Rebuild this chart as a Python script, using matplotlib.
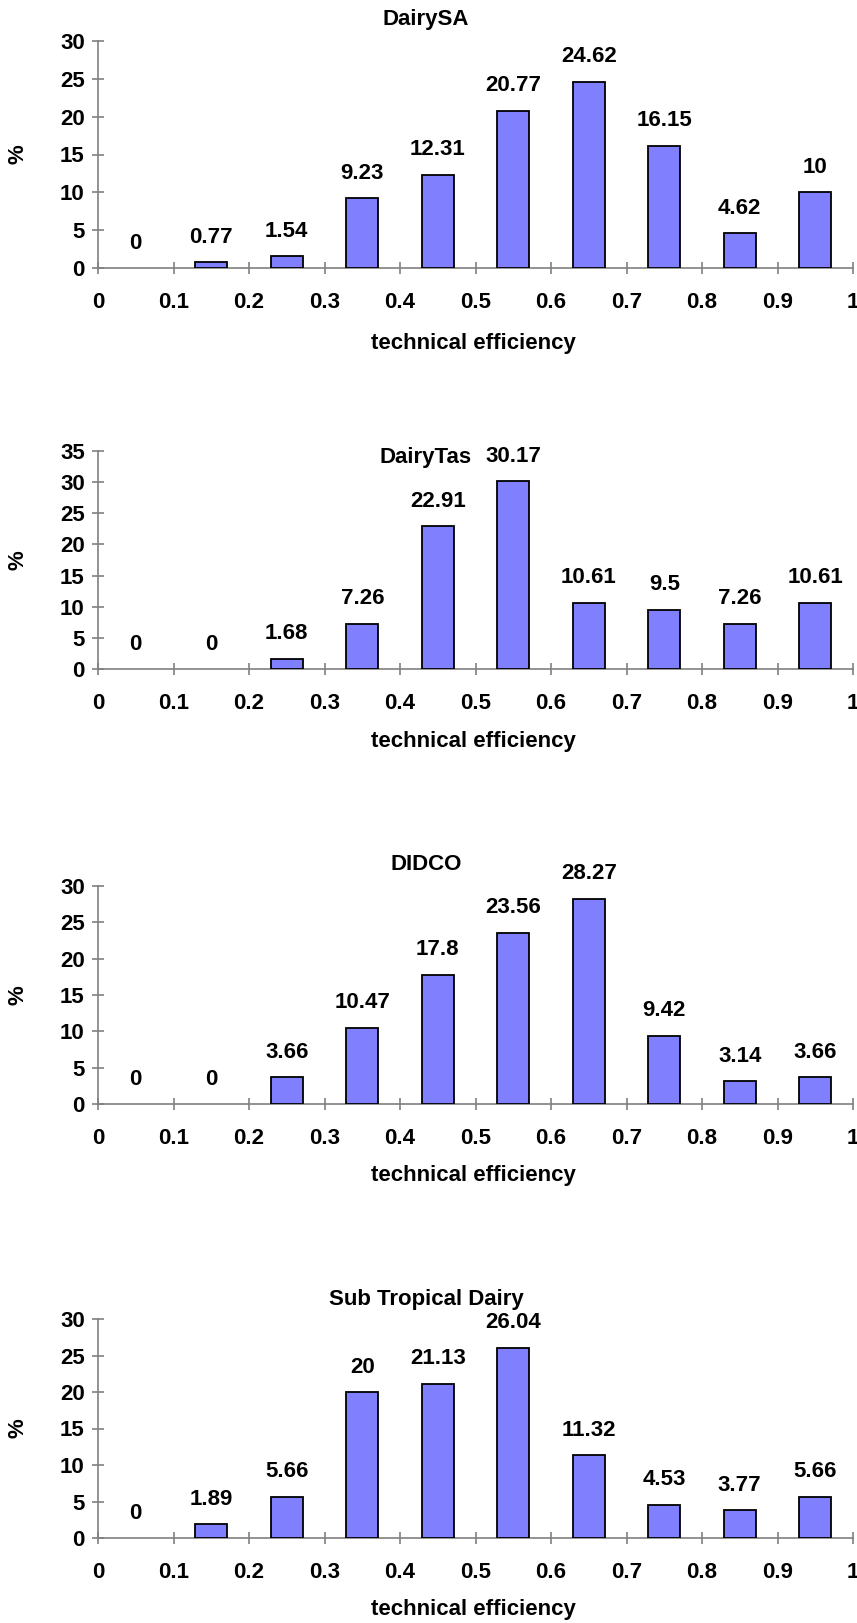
import matplotlib.pyplot as plt

plt.rcParams['font.family'] = ['Liberation Sans', 'DejaVu Sans']
plt.rcParams['font.weight'] = 'bold'

# bin centres of technical efficiency
bins = [0.05, 0.15, 0.25, 0.35, 0.45, 0.55, 0.65, 0.75, 0.85, 0.95]
x_ticks = [0, 0.1, 0.2, 0.3, 0.4, 0.5, 0.6, 0.7, 0.8, 0.9, 1]
x_tick_labels = ['0', '0.1', '0.2', '0.3', '0.4', '0.5', '0.6', '0.7', '0.8', '0.9', '1']

titles = ['DairySA', 'DairyTas', 'DIDCO', 'Sub Tropical Dairy']
dairy_sa = [0, 0.77, 1.54, 9.23, 12.31, 20.77, 24.62, 16.15, 4.62, 10]
dairy_tas = [0, 0, 1.68, 7.26, 22.91, 30.17, 10.61, 9.5, 7.26, 10.61]
didco = [0, 0, 3.66, 10.47, 17.8, 23.56, 28.27, 9.42, 3.14, 3.66]
sub_tropical = [0, 1.89, 5.66, 20, 21.13, 26.04, 11.32, 4.53, 3.77, 5.66]
y_max = [30, 35, 30, 30]

W, H = 857, 1623
fig = plt.figure(figsize=(W / 100, H / 100), dpi=100)

# pixel layout: (axis top, axis bottom, title y, xlabel y)
panels = [(41, 268, 19, 343), (451, 669, 457, 742),
          (886, 1104, 865, 1176), (1319, 1538, 1300, 1609)]
left, right = 98, 853

grey = '#808080'
fs = 16

for vals, title, ymax, (top, bot, ty, ly) in zip(
        [dairy_sa, dairy_tas, didco, sub_tropical], titles, y_max, panels):
    ax = fig.add_axes([left / W, 1 - bot / H, (right - left) / W, (bot - top) / H])
    lws = [1.3 if v > 0 else 0 for v in vals]
    ax.bar(bins, vals, width=0.042, color='#8080ff', edgecolor='black', linewidth=lws, zorder=3)
    for b, v in zip(bins, vals):
        ax.annotate('%g' % v, (b, v), xytext=(0, 14), textcoords='offset points',
                    ha='center', va='baseline', fontsize=fs, fontweight='bold')
    ax.set_xlim(0, 1)
    ax.set_ylim(0, ymax)
    ax.set_xticks(x_ticks)
    ax.set_xticklabels(x_tick_labels)
    ax.set_yticks(range(0, ymax + 1, 5))
    for s in ['top', 'right']:
        ax.spines[s].set_visible(False)
    for s in ['left', 'bottom']:
        ax.spines[s].set_color(grey)
        ax.spines[s].set_linewidth(1.2)
    ax.tick_params(axis='x', direction='inout', length=9, width=1.2, color=grey,
                   pad=13, labelsize=fs)
    ax.tick_params(axis='y', direction='inout', length=9, width=1.2, color=grey,
                   pad=5, labelsize=fs)
    for lab in ax.get_xticklabels() + ax.get_yticklabels():
        lab.set_fontweight('bold')
    ax.patch.set_alpha(0)

    fig.text(426 / W, 1 - ty / H, title, ha='center', va='center', fontsize=fs, fontweight='bold')
    fig.text(473 / W, 1 - ly / H, 'technical efficiency', ha='center', va='center',
             fontsize=fs, fontweight='bold')
    fig.text(18 / W, 1 - (top + bot) / 2 / H, '%', ha='center', va='center', rotation=90,
             fontsize=fs, fontweight='bold')

fig.savefig('out.png', dpi=100)
